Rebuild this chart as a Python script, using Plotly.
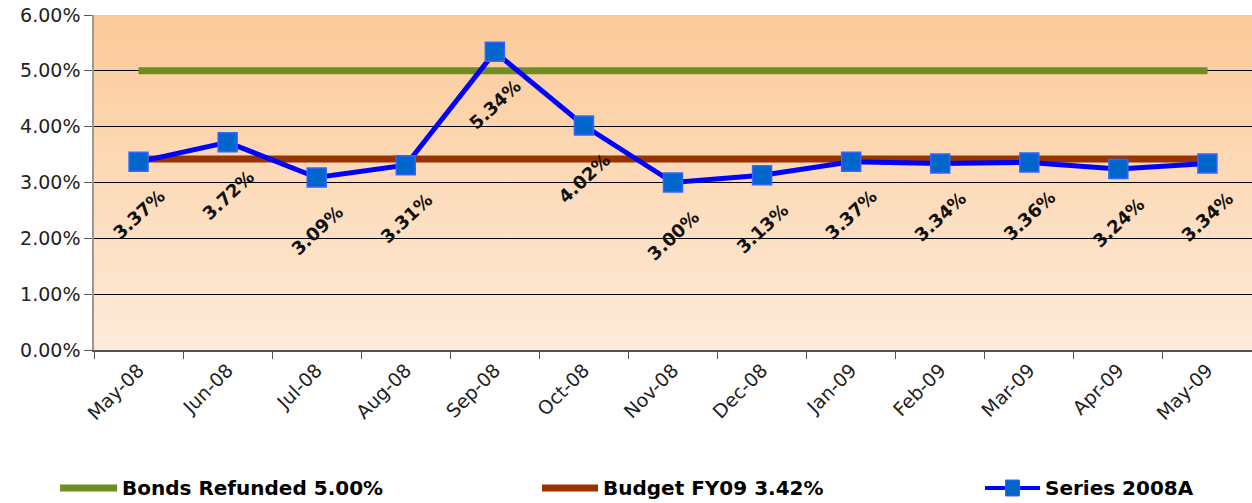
import plotly.graph_objects as go

# data (rates in %)
months = ["May-08", "Jun-08", "Jul-08", "Aug-08", "Sep-08", "Oct-08", "Nov-08",
          "Dec-08", "Jan-09", "Feb-09", "Mar-09", "Apr-09", "May-09"]
series_2008a = [3.37, 3.72, 3.09, 3.31, 5.34, 4.02, 3.00, 3.13, 3.37, 3.34, 3.36, 3.24, 3.34]
bonds_refunded = 5.00
budget_fy09 = 3.42

legend_names = ["Bonds Refunded 5.00%", "Budget FY09 3.42%", "Series 2008A"]

GREEN = "#6E8E24"
BROWN = "#993300"
BLUE = "#0000FF"
MARKER_FILL = "#0066CC"
MARKER_EDGE = "#3366FF"

# plot area in pixels (1252 x 503 page)
L, R, T, B = 94, 1252, 15, 350
W, H = 1252, 503


def px_x(p):
    return (p - L) / (R - L)


def px_y(p):
    return (B - p) / (B - T)


fig = go.Figure()

fig.add_trace(go.Scatter(
    x=months, y=[bonds_refunded / 100] * len(months), mode="lines",
    line=dict(color=GREEN, width=7), name=legend_names[0], hoverinfo="skip"))
fig.add_trace(go.Scatter(
    x=months, y=[budget_fy09 / 100] * len(months), mode="lines",
    line=dict(color=BROWN, width=7), name=legend_names[1], hoverinfo="skip"))
fig.add_trace(go.Scatter(
    x=months, y=[v / 100 for v in series_2008a], mode="lines+markers",
    line=dict(color=BLUE, width=5),
    marker=dict(symbol="square", size=19, color=MARKER_FILL,
                line=dict(color=MARKER_EDGE, width=1.5)),
    name=legend_names[2]))

# rotated data labels under each point
for m, v in zip(months, series_2008a):
    fig.add_annotation(
        x=m, y=v / 100, text=f"<b>{v:.2f}%</b>", showarrow=False,
        textangle=-43, yshift=-53, xanchor="center", yanchor="middle",
        font=dict(family="DejaVu Sans", size=18, color="#111111"))

# vertical orange gradient behind the plot area
grad_svg = (
    "data:image/svg+xml;utf8,"
    "<svg xmlns='http://www.w3.org/2000/svg' width='100' height='100' preserveAspectRatio='none'>"
    "<defs><linearGradient id='g' x1='0' y1='0' x2='0' y2='1'>"
    "<stop offset='0' stop-color='%23FCCA98'/><stop offset='1' stop-color='%23FDEBDA'/>"
    "</linearGradient></defs><rect width='100' height='100' fill='url(%23g)'/></svg>"
)
fig.add_layout_image(dict(
    source=grad_svg, xref="paper", yref="paper", x=0, y=1, sizex=1, sizey=1,
    sizing="stretch", layer="below", xanchor="left", yanchor="top"))

# hand-made legend along the bottom
legend_items = [
    (60, 117, 120, GREEN, 7, False),
    (542, 598, 601, BROWN, 7, False),
    (985, 1040, 1043, BLUE, 4, True),
]
ly = px_y(488)
for (x0, x1, tx, col, w, mk), name in zip(legend_items, legend_names):
    fig.add_shape(type="line", xref="paper", yref="paper",
                  x0=px_x(x0), x1=px_x(x1), y0=ly, y1=ly,
                  line=dict(color=col, width=w))
    if mk:
        cx = (x0 + x1) / 2
        fig.add_shape(type="rect", xref="paper", yref="paper",
                      x0=px_x(cx - 7), x1=px_x(cx + 7),
                      y0=px_y(488 + 8), y1=px_y(488 - 8),
                      fillcolor=MARKER_FILL, line=dict(color=MARKER_EDGE, width=1))
    fig.add_annotation(xref="paper", yref="paper", x=px_x(tx), y=ly,
                       text=f"<b>{name}</b>", showarrow=False,
                       xanchor="left", yanchor="middle",
                       font=dict(family="DejaVu Sans", size=20, color="#000000"))

fig.update_layout(
    width=W, height=H,
    margin=dict(l=L, r=W - R, t=T, b=H - B, autoexpand=False),
    paper_bgcolor="white",
    plot_bgcolor="rgba(0,0,0,0)",
    showlegend=False,
    font=dict(family="DejaVu Sans", size=18, color="#222222"),
    xaxis=dict(
        type="category", range=[-0.5, len(months) - 0.5],
        tickangle=-45, tickson="boundaries", ticks="outside", ticklen=7,
        tickcolor="#555555", showline=True, linecolor="#555555", linewidth=1.5,
        showgrid=False, tickfont=dict(size=19)),
    yaxis=dict(
        range=[0, 0.06], dtick=0.01, tickformat=".2%",
        ticks="outside", ticklen=8, tickcolor="#555555",
        showline=True, linecolor="#999999", linewidth=1.5,
        showgrid=True, gridcolor="#000000", gridwidth=1,
        zeroline=False, tickfont=dict(size=19)),
)

fig.write_html("out.html", config={"displayModeBar": False},
               post_script="document.body.style.margin='0';")
